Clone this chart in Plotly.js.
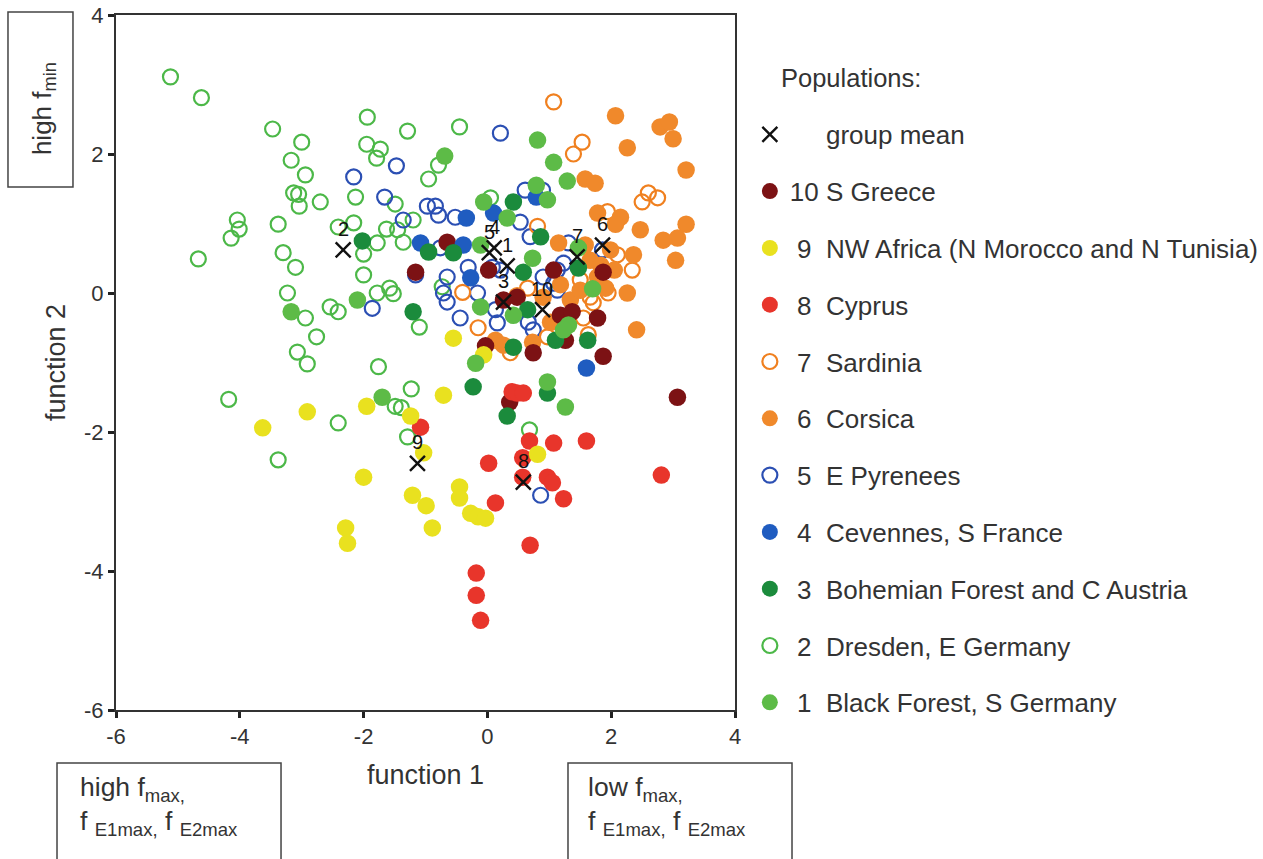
<!DOCTYPE html>
<html>
<head>
<meta charset="utf-8">
<script src="https://cdn.plot.ly/plotly-3.0.1.min.js"></script>
<style>html,body{margin:0;padding:0;background:#fff;}#chart{width:1263px;height:859px;}</style>
</head>
<body>
<div id="chart"></div>
<script>
// ---- data (discriminant function scores) ----
const g1x = [-3.17,-2.10,-1.70,-0.69,0.81,1.07,0.79,0.97,-0.06,0.32,1.29,-0.11,0.73,-0.11,0.42,-0.19,0.97,1.47,1.70,1.31,1.23,1.26];
const g1y = [-0.27,-0.10,-1.50,1.97,2.20,1.88,1.55,1.34,1.31,1.08,1.61,0.69,0.50,-0.20,-0.32,-1.01,-1.28,0.65,0.06,-0.46,-0.53,-1.64];

const g2x = [-5.12,-4.62,-3.47,-3.00,-3.17,-2.94,-1.94,-1.29,-1.95,-1.73,-1.79,-3.13,-3.05,-3.04,-2.70,-2.13,-4.04,-4.01,-4.14,-3.38,-4.67,-3.30,-3.10,-2.41,-2.16,-2.00,-1.78,-1.63,-1.45,-1.49,-1.36,-1.20,-2.00,-3.23,-2.94,-2.76,-3.07,-2.91,-2.54,-2.41,-1.78,-1.58,-1.52,-1.10,-1.76,-4.18,-2.41,-3.38,-1.23,-1.49,-1.39,-1.29,-0.45,-0.79,-0.95,0.05,0.68,-0.73];
const g2y = [3.11,2.81,2.36,2.17,1.91,1.70,2.53,2.33,2.14,2.07,1.94,1.44,1.42,1.25,1.31,1.38,1.05,0.92,0.79,0.99,0.49,0.58,0.37,0.95,1.01,0.56,0.72,0.92,0.91,1.28,0.73,1.05,0.26,0.00,-0.36,-0.63,-0.85,-1.02,-0.20,-0.27,0.00,0.07,-0.01,-0.49,-1.06,-1.53,-1.87,-2.40,-1.38,-1.63,-1.65,-2.07,2.39,1.84,1.64,1.37,-1.97,0.09];

const g3x = [-2.02,-1.20,0.42,0.86,-0.95,-0.55,0.58,0.65,0.42,1.10,-0.23,1.47,1.62,0.97,0.32];
const g3y = [0.75,-0.27,1.31,0.81,0.59,0.58,0.30,-0.24,-0.78,-0.68,-1.35,0.36,-0.68,-1.44,-1.77];

const g4x = [-0.34,0.10,0.79,-1.08,-0.39,-0.27,1.60];
const g4y = [1.08,1.15,1.38,0.72,0.69,0.22,-1.08];

const g5x = [-2.16,-1.47,-1.66,-1.36,-1.86,0.21,-0.97,-0.84,-0.79,-0.52,0.61,0.89,0.53,0.69,-0.76,-1.16,-0.31,-0.65,-0.71,-0.65,-0.16,-0.44,0.13,0.16,0.66,0.74,0.08,0.21,0.90,1.86,1.31,1.23,1.13,1.07,1.13,0.86];
const g5y = [1.67,1.83,1.38,1.05,-0.22,2.30,1.25,1.25,1.12,1.09,1.48,1.48,1.02,0.81,0.65,0.26,0.37,0.23,0.00,-0.13,0.00,-0.36,-0.24,-0.43,-0.42,-0.53,0.37,0.33,0.23,0.62,0.72,0.43,0.33,0.14,0.04,-2.91];

const g6x = [2.07,2.79,2.94,3.00,2.26,3.21,1.58,1.74,1.78,2.15,2.07,2.47,3.21,3.07,2.84,3.04,2.36,2.26,2.41,1.15,1.66,1.83,1.78,1.91,1.34,0.90,1.18,1.50,0.13,0.73,1.99,1.58,1.02,0.48,0.26,2.05];
const g6y = [2.55,2.39,2.46,2.22,2.09,1.77,1.64,1.58,1.15,1.09,0.99,0.91,0.99,0.79,0.76,0.47,0.55,0.00,-0.53,0.72,0.47,0.40,0.23,0.07,-0.10,-0.06,0.12,0.04,-0.68,-0.71,0.62,0.69,-0.42,-0.04,-0.75,0.33];

const g7x = [1.07,1.53,1.39,2.60,2.50,2.75,1.94,2.34,2.10,1.95,1.66,1.71,1.55,1.63,0.97,1.50,0.81,-0.40,-0.15,0.65,0.37];
const g7y = [2.75,2.17,2.00,1.44,1.31,1.37,1.17,0.33,0.55,0.00,-0.06,-0.14,-0.36,-0.60,-0.63,0.19,0.96,0.01,-0.50,0.07,-0.86];

const g8x = [0.40,0.48,0.58,-1.08,0.02,0.68,1.07,1.60,0.57,0.57,0.97,1.05,1.23,0.13,2.81,0.69,-0.18,-0.18,-0.11];
const g8y = [-1.42,-1.44,-1.44,-1.93,-2.45,-2.13,-2.16,-2.13,-2.37,-2.65,-2.65,-2.73,-2.96,-3.02,-2.62,-3.63,-4.03,-4.35,-4.71];

const g9x = [-3.63,-2.91,-1.95,-1.24,-2.00,-1.21,-0.99,-0.89,-2.29,-2.26,-0.71,-1.03,-0.45,-0.45,-0.27,-0.15,-0.03,0.81,-0.55,-0.06];
const g9y = [-1.94,-1.71,-1.63,-1.77,-2.65,-2.91,-3.06,-3.38,-3.38,-3.60,-1.47,-2.30,-2.79,-2.95,-3.17,-3.22,-3.24,-2.32,-0.65,-0.89];

const g10x = [0.36,3.07,1.78,1.87,1.18,1.37,1.26,1.87,-1.16,-0.65,0.26,0.02,0.48,0.74,1.07,-0.03];
const g10y = [-1.57,-1.50,-0.36,-0.91,-0.32,-0.27,-0.68,0.30,0.30,0.73,-0.10,0.33,-0.06,-0.86,0.33,-0.76];

// group means (centroids)
const meanLabels = ['1','2','3','4','5','6','7','8','9','10'];
const meanX = [0.32,-2.33,0.26,0.11,0.03,1.86,1.45,0.58,-1.13,0.89];
const meanY = [0.39,0.62,-0.13,0.65,0.58,0.69,0.52,-2.72,-2.45,-0.24];

const tickVals = [-6,-4,-2,0,2,4];
const tickText = ['-6','-4','-2','0','2','4'];

const legendNames = {
  g10: '10 S Greece',
  g9: '\u00a09\u00a0\u00a0NW Africa (N Morocco and N Tunisia)',
  g8: '\u00a08\u00a0\u00a0Cyprus',
  g7: '\u00a07\u00a0\u00a0Sardinia',
  g6: '\u00a06\u00a0\u00a0Corsica',
  g5: '\u00a05\u00a0\u00a0E Pyrenees',
  g4: '\u00a04\u00a0\u00a0Cevennes, S France',
  g3: '\u00a03\u00a0\u00a0Bohemian Forest and C Austria',
  g2: '\u00a02\u00a0\u00a0Dresden, E Germany',
  g1: '\u00a01\u00a0\u00a0Black Forest, S Germany',
  mean: '\u00a0\u00a0\u00a0\u00a0\u00a0group mean'
};

// ---- styles ----
const FONT = 'Liberation Sans, Arial, sans-serif';
const FS = 17.5, OS = 15;
function filled(x, y, name, color, rank){
  return {type:'scatter', mode:'markers', x:x, y:y, name:name, legendgroup:name, legendrank:rank,
    marker:{symbol:'circle', size:FS, color:color, line:{width:0}}, hoverinfo:'x+y'};
}
function open(x, y, name, color, rank){
  return {type:'scatter', mode:'markers', x:x, y:y, name:name, legendgroup:name, legendrank:rank,
    marker:{symbol:'circle-open', size:OS, color:color, line:{width:2.2, color:color}}, hoverinfo:'x+y'};
}

const traces = [
  open(g2x, g2y, legendNames.g2, '#4cb848', 9),
  open(g5x, g5y, legendNames.g5, '#2b4fb3', 6),
  open(g7x, g7y, legendNames.g7, '#f0801f', 4),
  filled(g6x, g6y, legendNames.g6, '#f0892b', 5),
  filled(g10x, g10y, legendNames.g10, '#7c1214', 1),
  filled(g8x, g8y, legendNames.g8, '#e8352b', 3),
  filled(g9x, g9y, legendNames.g9, '#e9e11f', 2),
  filled(g4x, g4y, legendNames.g4, '#1f5cc0', 7),
  filled(g3x, g3y, legendNames.g3, '#1b8b3c', 8),
  filled(g1x, g1y, legendNames.g1, '#5dbb47', 10),
  {type:'scatter', mode:'markers', x:meanX, y:meanY, name:legendNames.mean, legendgroup:'mean', legendrank:0,
   marker:{symbol:'x-thin', size:15, color:'#111', line:{width:2.4, color:'#111'}}, hoverinfo:'x+y'}
];

function makeAxis(titleText, standoff){
  return {
    range:[-6,4], tickmode:'array', tickvals:tickVals, ticktext:tickText, ticks:'outside', ticklen:6, tickwidth:3, tickcolor:'#222',
    showline:true, linecolor:'#333', linewidth:2, mirror:true, showgrid:false, zeroline:false,
    tickfont:{size:22, color:'#333', family:FONT}, fixedrange:true, automargin:false,
    title:{text:titleText, font:{size:27, color:'#333', family:FONT}, standoff:standoff}
  };
}

// group-mean number labels, placed from the mean arrays
const meanAnnotations = meanLabels.map((t, i) => ({
  x: meanX[i], y: meanY[i], xref:'x', yref:'y', text:t, showarrow:false, yshift:21,
  font:{size:20, color:'#111', family:FONT}
}));

const layout = {
  width:1263, height:859,
  margin:{l:116, r:528, t:15, b:149, autoexpand:false},
  paper_bgcolor:'#fff', plot_bgcolor:'#fff',
  font:{family:FONT, color:'#333'},
  xaxis:makeAxis('function 1', 17),
  yaxis:makeAxis('function 2', 11),
  showlegend:true,
  legend:{x:1.024, xanchor:'left', y:0.862, yanchor:'top', traceorder:'grouped', tracegroupgap:20,
    font:{size:26, color:'#333', family:FONT}, bgcolor:'rgba(0,0,0,0)', itemsizing:'trace'},
  shapes:[
    {type:'rect', xref:'paper', yref:'paper', x0:-0.1745, x1:-0.0695, y0:0.7525, y1:1.0043, line:{color:'#444', width:1.5}},
    {type:'rect', xref:'paper', yref:'paper', x0:-0.0953, x1:0.2666, y0:-0.25, y1:-0.0763, line:{color:'#444', width:1.5}},
    {type:'rect', xref:'paper', yref:'paper', x0:0.7302, x1:1.0921, y0:-0.25, y1:-0.0763, line:{color:'#444', width:1.5}}
  ],
  annotations:[
    {xref:'paper', yref:'paper', x:1.0711, y:0.9094, text:'Populations:', showarrow:false, xanchor:'left', yanchor:'middle',
     font:{size:25.5, color:'#333'}},
    {xref:'paper', yref:'paper', x:-0.118, y:0.866, text:'high f<sub>min</sub>', textangle:-90, showarrow:false,
     font:{size:26, color:'#333'}, xanchor:'center', yanchor:'middle'},
    {xref:'paper', yref:'paper', x:-0.061, y:-0.086, text:'high f<sub>max,</sub><br>f <sub>E1max,</sub> f <sub>E2max</sub>',
     showarrow:false, align:'left', xanchor:'left', yanchor:'top', font:{size:26.5, color:'#333'}},
    {xref:'paper', yref:'paper', x:0.7595, y:-0.086, text:'low f<sub>max,</sub><br>f <sub>E1max,</sub> f <sub>E2max</sub>',
     showarrow:false, align:'left', xanchor:'left', yanchor:'top', font:{size:26.5, color:'#333'}}
  ].concat(meanAnnotations)
};

Plotly.newPlot('chart', traces, layout, {displayModeBar:false, staticPlot:true});
</script>
</body>
</html>
